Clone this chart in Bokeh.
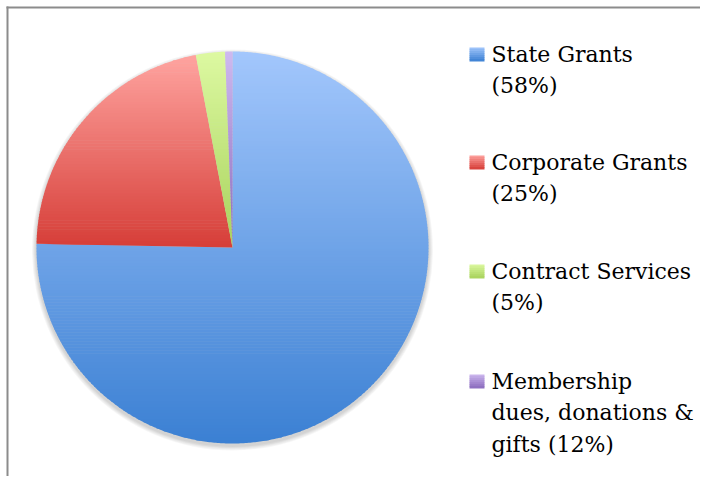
import numpy as np
from bokeh.plotting import figure
from bokeh.models import Range1d
from bokeh.embed import file_html
from bokeh.resources import INLINE
from bokeh.core.properties import value

# ---------------- data ----------------
categories = ["State Grants", "Corporate Grants", "Contract Services",
              "Membership dues, donations & gifts"]
legend_lines = [["State Grants", "(58%)"],
                ["Corporate Grants", "(25%)"],
                ["Contract Services", "(5%)"],
                ["Membership", "dues, donations &", "gifts (12%)"]]
# slice sizes as drawn in the picture (percent of the circle)
slice_shares = [75.3, 21.7, 2.4, 0.6]
top_colors = ["#a3c7fc", "#ffa4a0", "#ddf9a2", "#cfbaf0"]
bottom_colors = ["#3b80d3", "#d63e38", "#a8d25c", "#8a6bbd"]

# ---------------- layout ----------------
W, H = 700, 476
def py(page_y):  # screenshot pixel y -> data y
    return H - page_y

cx, cy, R = 232, py(247), 196

p = figure(width=W, height=H, x_range=Range1d(0, W), y_range=Range1d(0, H),
           output_backend="svg", toolbar_location=None, min_border=0)
p.axis.visible = False
p.grid.visible = False
p.outline_line_color = None
p.background_fill_color = "white"
p.border_fill_color = "white"


def hex2rgb(h):
    h = h.lstrip("#")
    return np.array([int(h[i:i + 2], 16) for i in (0, 2, 4)], dtype=float)


def rgb2hex(c):
    c = np.clip(np.round(c), 0, 255).astype(int)
    return "#%02x%02x%02x" % tuple(c)


def clip_half(poly, y0, keep_below):
    out = []
    n = len(poly)
    for i in range(n):
        a = poly[i]
        b = poly[(i + 1) % n]
        ina = a[1] <= y0 if keep_below else a[1] >= y0
        inb = b[1] <= y0 if keep_below else b[1] >= y0
        if ina:
            out.append(a)
        if ina != inb:
            t = (y0 - a[1]) / (b[1] - a[1])
            out.append((a[0] + t * (b[0] - a[0]), y0))
    return out


def gradient_bands(poly, top_hex, bot_hex, step=3.0):
    ys_all = [q[1] for q in poly]
    ymin, ymax = min(ys_all), max(ys_all)
    top, bot = hex2rgb(top_hex), hex2rgb(bot_hex)
    nb = max(1, int(np.ceil((ymax - ymin) / step)))
    xs, ys, cols = [], [], []
    for k in range(nb):
        yt = ymax - k * (ymax - ymin) / nb
        yb = ymax - (k + 1) * (ymax - ymin) / nb
        piece = clip_half(poly, yt + 0.6, True)
        if not piece:
            continue
        piece = clip_half(piece, yb, False)
        if len(piece) < 3:
            continue
        t = (ymax - (yt + yb) / 2) / (ymax - ymin) if ymax > ymin else 0
        xs.append([q[0] for q in piece])
        ys.append([q[1] for q in piece])
        cols.append(rgb2hex(top * (1 - t) + bot * t))
    return xs, ys, cols


# shadow under the pie
for k in range(1, 6):
    p.circle(x=[cx], y=[cy - 2.5], radius=R + k * 0.9, fill_color="#000000",
             fill_alpha=0.035, line_color=None)

# pie slices, clockwise from 12 o'clock
cum = np.concatenate([[0], np.cumsum(slice_shares)]) / sum(slice_shares)
for i, name in enumerate(categories):
    a0 = np.pi / 2 - 2 * np.pi * cum[i]
    a1 = np.pi / 2 - 2 * np.pi * cum[i + 1]
    npts = max(4, int(abs(a1 - a0) * 120))
    ang = np.linspace(a0, a1, npts)
    poly = [(cx, cy)] + [(cx + R * np.cos(a), cy + R * np.sin(a)) for a in ang]
    xs, ys, cols = gradient_bands(poly, top_colors[i], bottom_colors[i])
    p.patches(xs=xs, ys=ys, fill_color=cols, line_color=None)

# legend
legend_x_sq, legend_x_txt = 469, 491
first_baselines = [61, 169, 278, 388]
line_gap = 31.5
text_shift = 7.5  # rendered alphabetic baseline sits lower than requested
tx, ty, tt = [], [], []
for i, lines in enumerate(legend_lines):
    b = first_baselines[i]
    sq = [(legend_x_sq, py(b)), (legend_x_sq + 15, py(b)),
          (legend_x_sq + 15, py(b - 14)), (legend_x_sq, py(b - 14))]
    xs, ys, cols = gradient_bands(sq, top_colors[i], bottom_colors[i], step=2.0)
    p.patches(xs=xs, ys=ys, fill_color=cols, line_color=None)
    for j, s in enumerate(lines):
        tx.append(legend_x_txt)
        ty.append(py(b + j * line_gap - text_shift))
        tt.append(s)
p.text(x=tx, y=ty, text=tt, text_font=value("DejaVu Serif"), text_font_size="22px",
       text_color="#000000", text_baseline="alphabetic", text_align="left")

# chart frame (left and top edges visible)
p.line(x=[7, 7], y=[0, py(6)], line_color="#8c8c8c", line_width=2)
p.line(x=[6, W], y=[py(7), py(7)], line_color="#8c8c8c", line_width=2)

open("out.html", "w").write(file_html(p, INLINE))
